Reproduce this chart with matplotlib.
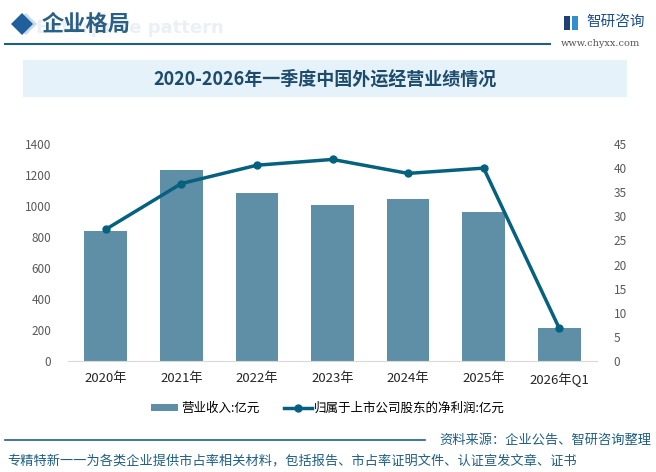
#!/usr/bin/env python3

import matplotlib
matplotlib.use('Agg')
import matplotlib.pyplot as plt
from matplotlib.patches import Rectangle, Polygon
from matplotlib.lines import Line2D

plt.rcParams['font.family'] = ['Noto Sans CJK SC', 'DejaVu Sans']

years = ['2020年', '2021年', '2022年', '2023年', '2024年', '2025年', '2026年Q1']
revenue = [840, 1233, 1084, 1006, 1045, 961, 213]
net_profit = [27.3, 36.8, 40.6, 41.8, 38.9, 40.0, 6.8]

bar_color = '#5f8fa6'
line_color = '#05617f'
dark_blue = '#1f5f85'


def main():
    fig = plt.figure(figsize=(6.56, 4.72), dpi=100)
    fig.patch.set_facecolor('white')
    W, H = 656, 472

    def fx(x):
        return x / W

    def fy(y):
        return 1 - y / H

    # header
    fig.patches.append(Polygon([(fx(26), fy(13)), (fx(37), fy(24)), (fx(26), fy(35)), (fx(15), fy(24))],
                               closed=True, transform=fig.transFigure, facecolor='#c9dbea', zorder=1))
    fig.patches.append(Polygon([(fx(22), fy(13)), (fx(33), fy(24)), (fx(22), fy(35)), (fx(11), fy(24))],
                               closed=True, transform=fig.transFigure, facecolor='#1f5f9a', zorder=2))
    fig.text(fx(224), fy(28), 'Enterprise pattern', fontsize=13, color='#eaf0f5',
             fontweight='bold', ha='right', va='center', zorder=1, family='DejaVu Sans')
    fig.text(fx(42), fy(24), '企业格局', fontsize=16, color='#2a5f86', fontweight='bold',
             ha='left', va='center', zorder=3,
             bbox=dict(facecolor='none', edgecolor='none', pad=0))
    fig.lines.append(Line2D([fx(5), fx(550)], [fy(44), fy(44)], transform=fig.transFigure,
                            color=dark_blue, linewidth=1.5))

    # logo
    fig.patches.append(Rectangle((fx(564), fy(30)), fx(6), 14 / H, transform=fig.transFigure,
                                 facecolor='#1f3f7a', zorder=2))
    fig.patches.append(Rectangle((fx(572), fy(30)), fx(6), 14 / H, transform=fig.transFigure,
                                 facecolor='#2f8fd0', zorder=2))
    fig.text(fx(586), fy(22), '智研咨询', fontsize=10.5, color='#1f4f8a', ha='left', va='center')
    fig.text(fx(600), fy(43), 'www.chyxx.com', fontsize=7, color='#555555', ha='center',
             va='center', family='DejaVu Serif')

    # title box
    fig.patches.append(Rectangle((fx(23), fy(97)), fx(604), 37 / H, transform=fig.transFigure,
                                 facecolor='#e6f2fa', edgecolor='none', zorder=1))
    fig.text(fx(325), fy(79), '2020-2026年一季度中国外运经营业绩情况', fontsize=13,
             fontweight='bold', color='#1d4b6b', ha='center', va='center', zorder=3)

    # chart
    ax = fig.add_axes([fx(68), fy(361), fx(597 - 68), (361 - 144) / H])
    ax.patch.set_alpha(0)
    x = range(len(years))
    ax.bar(x, revenue, width=0.565, color=bar_color, zorder=2, label='营业收入:亿元')
    ax.set_xlim(-0.5, len(years) - 0.5)
    ax.set_ylim(0, 1400)
    ax.set_yticks(range(0, 1401, 200))
    ax.set_xticks(list(x))
    ax.set_xticklabels(years, fontsize=9.5, color='#262626')
    ax.tick_params(axis='y', labelsize=8.5, labelcolor='#595959', length=0, pad=12)
    ax.tick_params(axis='x', length=0, pad=8)
    for s in ['top', 'right', 'left']:
        ax.spines[s].set_visible(False)
    ax.spines['bottom'].set_color('#d9d9d9')

    ax2 = ax.twinx()
    ax2.plot(list(x), net_profit, color=line_color, linewidth=2.5, marker='o', markersize=5,
             zorder=3, label='归属于上市公司股东的净利润:亿元')
    ax2.set_ylim(0, 45)
    ax2.set_yticks(range(0, 46, 5))
    ax2.tick_params(axis='y', labelsize=8.5, labelcolor='#595959', length=0, pad=12)
    for s in ['top', 'right', 'left', 'bottom']:
        ax2.spines[s].set_visible(False)

    # legend
    h1, l1 = ax.get_legend_handles_labels()
    h2, l2 = ax2.get_legend_handles_labels()
    fig.legend(h1 + h2, l1 + l2, loc='center', bbox_to_anchor=(fx(328), fy(408)), ncol=2,
               frameon=False, fontsize=9, handlelength=2.2, handleheight=0.5,
               handletextpad=0.2, columnspacing=2.0)

    # footer
    fig.lines.append(Line2D([fx(5), fx(425)], [fy(440), fy(440)], transform=fig.transFigure,
                            color=dark_blue, linewidth=1.2))
    fig.text(fx(651), fy(440), '资料来源：企业公告、智研咨询整理', fontsize=9.5, color='#1f5f85',
             ha='right', va='center')
    fig.text(fx(7), fy(461), '专精特新一一为各类企业提供市占率相关材料，包括报告、市占率证明文件、认证宣发文章、证书',
             fontsize=9.5, color='#1f5f85', ha='left', va='center')

    fig.savefig('out.png', dpi=100)


if __name__ == '__main__':
    main()
